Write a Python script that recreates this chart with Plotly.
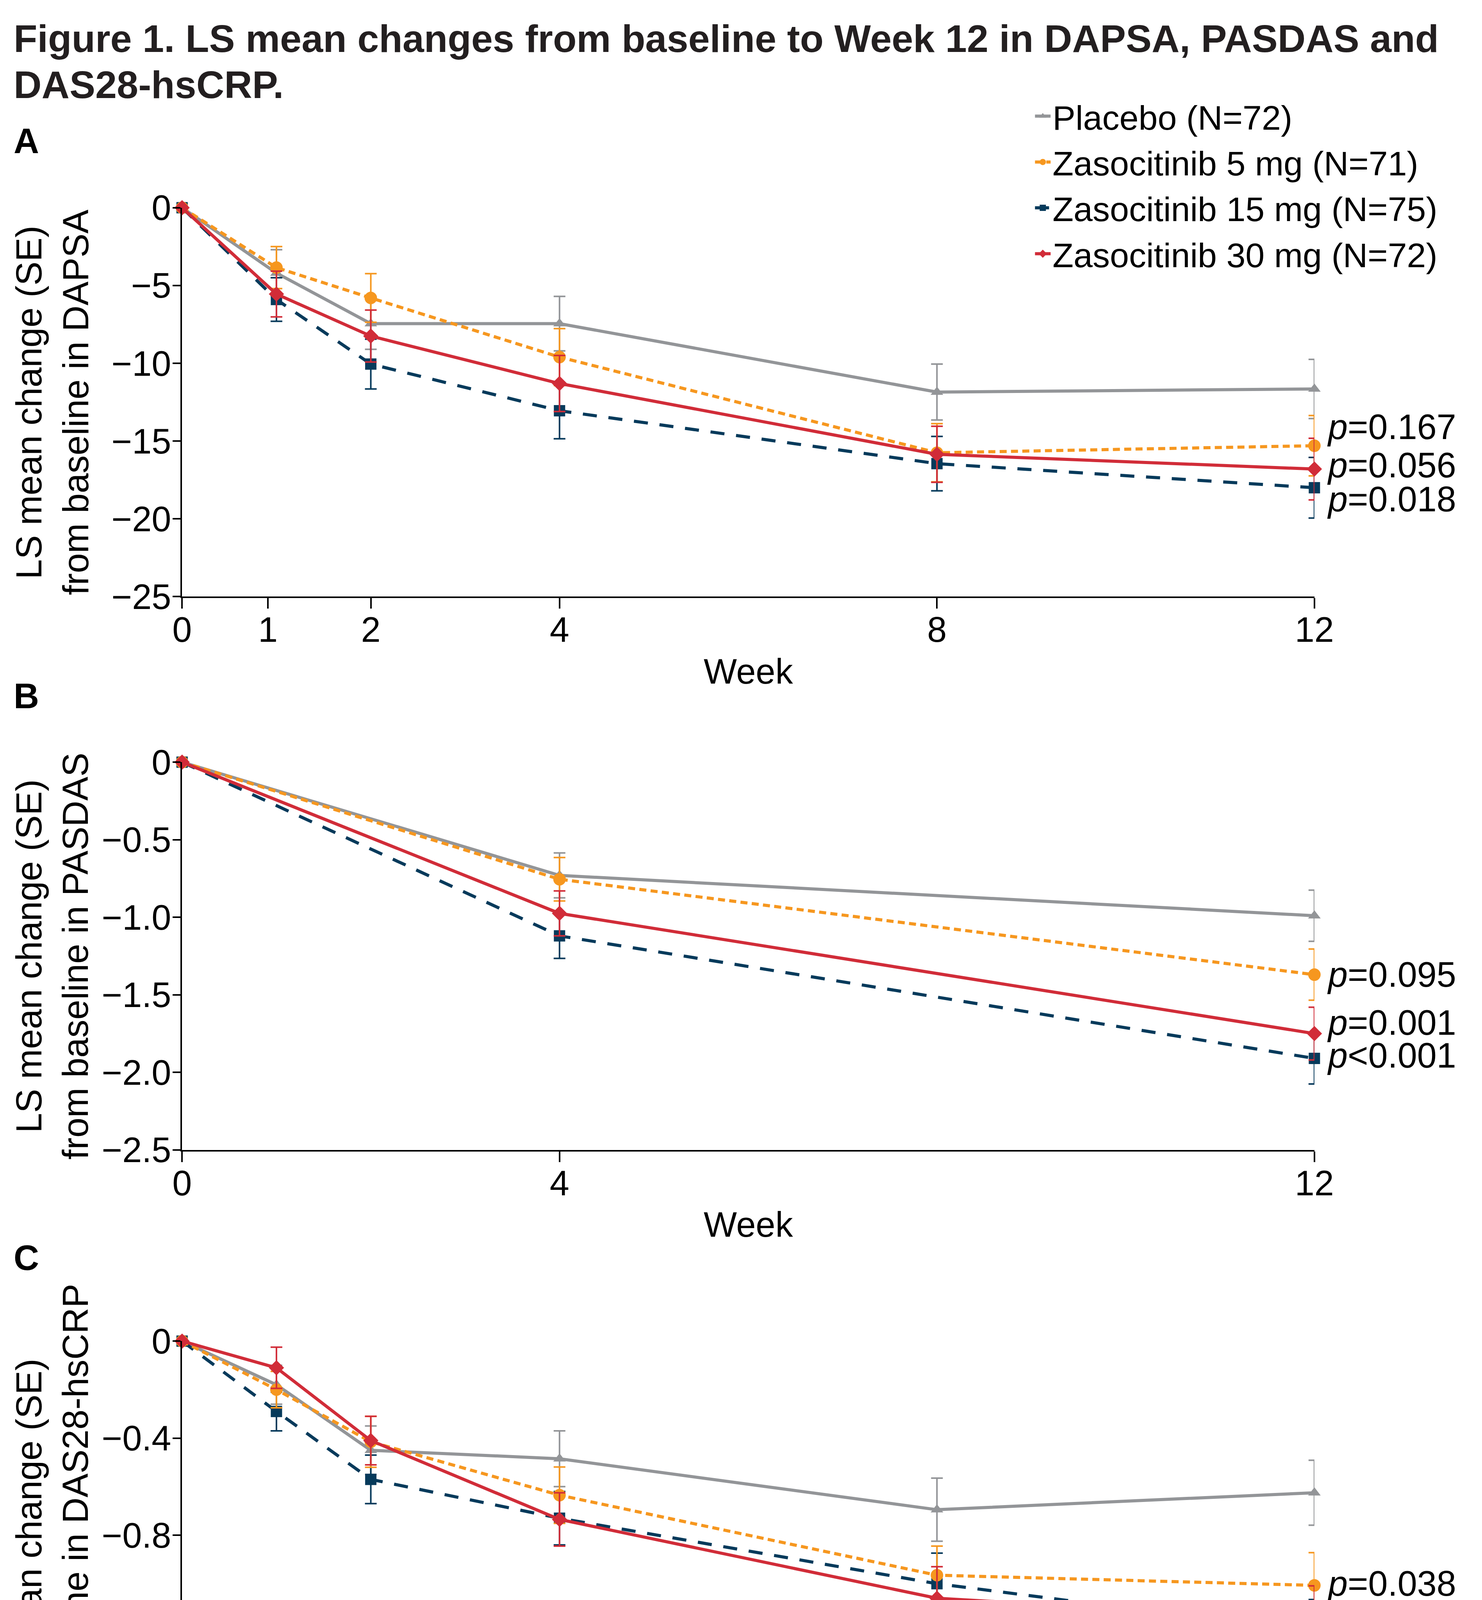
import plotly.graph_objects as go

W, H = 3795, 5285
FONT = "Liberation Sans, Arial, Helvetica, sans-serif"

# ---------------- data ----------------
series_names = ["Placebo (N=72)", "Zasocitinib 5 mg (N=71)",
                "Zasocitinib 15 mg (N=75)", "Zasocitinib 30 mg (N=72)"]
series_colors = ["#939598", "#F6971F", "#063A5B", "#D12C38"]
series_symbols = ["triangle-up", "circle", "square", "diamond"]
series_sizes = [28, 32, 29, 30]
series_dash = ["solid", "18px,11px", "36px,30px", "solid"]
legend_rank = [1, 2, 3, 4]
draw_order = [0, 2, 1, 3]

weeks_A = [0, 1, 2, 4, 8, 12]
weeks_B = [0, 4, 12]
weeks_C = [0, 1, 2, 4, 8, 12]

# Panel A: DAPSA
dapsa_mean = [
    [0, -4.2, -7.45, -7.45, -11.85, -11.65],
    [0, -3.85, -5.8, -9.6, -15.75, -15.3],
    [0, -5.9, -10.05, -13.05, -16.45, -18.0],
    [0, -5.55, -8.25, -11.3, -15.85, -16.8],
]
dapsa_se = [
    [None, 1.5, 1.65, 1.75, 1.8, 1.9],
    [None, 1.35, 1.56, 1.83, 1.87, 1.94],
    [None, 1.4, 1.6, 1.8, 1.75, 1.95],
    [None, 1.47, 1.67, 1.8, 1.8, 1.98],
]
# Panel B: PASDAS
pasdas_mean = [
    [0, -0.73, -0.99],
    [0, -0.755, -1.37],
    [0, -1.12, -1.91],
    [0, -0.975, -1.75],
]
pasdas_se = [
    [None, 0.145, 0.165],
    [None, 0.14, 0.165],
    [None, 0.145, 0.165],
    [None, 0.145, 0.17],
]
# Panel C: DAS28-hsCRP
das28_mean = [
    [0, -0.18, -0.45, -0.485, -0.695, -0.625],
    [0, -0.2, -0.415, -0.635, -0.965, -1.007],
    [0, -0.29, -0.57, -0.73, -1.0, -1.2],
    [0, -0.11, -0.41, -0.735, -1.06, -1.149],
]
das28_se = [
    [None, 0.08, 0.1, 0.115, 0.13, 0.134],
    [None, 0.075, 0.105, 0.116, 0.12, 0.135],
    [None, 0.08, 0.1, 0.11, 0.126, 0.135],
    [None, 0.085, 0.1, 0.11, 0.13, 0.14],
]

# p-value labels at week 12 (text, label y position)
pvals_A = ["<i>p</i>=0.167", "<i>p</i>=0.056", "<i>p</i>=0.018"]
pvals_A_y = [-14.1, -16.55, -18.75]
pvals_B = ["<i>p</i>=0.095", "<i>p</i>=0.001", "<i>p</i>&lt;0.001"]
pvals_B_y = [-1.37, -1.68, -1.89]
pvals_C = ["<i>p</i>=0.038", "<i>p</i>=0.006", "<i>p</i>=0.002"]
pvals_C_y = [-1.0, -1.147, -1.297]

# axis ticks
xt_A = [0, 0.91, 2, 4, 8, 12]
xt_A_text = ["0", "1", "2", "4", "8", "12"]
xt_B = [0, 4, 12]
xt_B_text = ["0", "4", "12"]
yt_A = [0, -5, -10, -15, -20, -25]
yt_A_text = ["0", "\u22125", "\u221210", "\u221215", "\u221220", "\u221225"]
yt_B = [0, -0.5, -1.0, -1.5, -2.0, -2.5]
yt_B_text = ["0", "\u22120.5", "\u22121.0", "\u22121.5", "\u22122.0", "\u22122.5"]
yt_C = [0, -0.4, -0.8, -1.2, -1.6]
yt_C_text = ["0", "\u22120.4", "\u22120.8", "\u22121.2", "\u22121.6"]

ytitle_A = "LS mean change (SE)<br>from baseline in DAPSA"
ytitle_B = "LS mean change (SE)<br>from baseline in PASDAS"
ytitle_C = "LS mean change (SE)<br>from baseline in DAS28-hsCRP"

title_line1 = "<b>Figure 1. LS mean changes from baseline to Week 12 in DAPSA, PASDAS and</b>"
title_line2 = "<b>DAS28-hsCRP.</b>"
footnote_lines = [
    "LS mean and nominal <i>p</i> values were obtained from a mixed model for repeated measures. The model included",
    "treatment group, visit, treatment-by-visit interaction, previous treatment with biologics or nontraditional",
    "disease-modifying anti-rheumatic drugs, and region as fixed effects, and baseline score as a covariate.",
    "DAPSA, Disease Activity Index for Psoriatic Arthritis; DAS28, Disease Activity Score 28; hsCRP, high-sensitivity",
    "C-reactive protein; LS, least-squares; PASDAS, Psoriatic Arthritis Disease Activity Score; SE, standard error.",
]

# ---------------- layout geometry (pixels) ----------------
def py(p):
    return 1 - p / H

x_dom = [442 / W, 3400 / W]
panels = [
    dict(top=483, bottom=1498, label="A", label_base=347),
    dict(top=1930, bottom=2942, label="B", label_base=1796),
    dict(top=3441, bottom=4454, label="C", label_base=3262),
]
footnote_tops = [4775, 4866, 4956, 5046, 5136]

fig = go.Figure()

panel_data = [
    (weeks_A, dapsa_mean, dapsa_se, "x", "y"),
    (weeks_B, pasdas_mean, pasdas_se, "x2", "y2"),
    (weeks_C, das28_mean, das28_se, "x3", "y3"),
]

for pi, (wk, means, ses, xa, ya) in enumerate(panel_data):
    for i in draw_order:
        fig.add_trace(go.Scatter(
            x=wk, y=means[i], xaxis=xa, yaxis=ya,
            mode="lines+markers",
            name=series_names[i],
            legendrank=legend_rank[i],
            showlegend=(pi == 0),
            cliponaxis=False,
            line=dict(color=series_colors[i], width=8, dash=series_dash[i]),
            marker=dict(symbol=series_symbols[i], size=series_sizes[i],
                        color=series_colors[i], line=dict(width=0)),
            error_y=dict(type="data", array=ses[i], visible=True,
                         color=series_colors[i], thickness=4, width=15),
        ))

axis_common = dict(showline=True, linecolor="black", linewidth=4,
                   showgrid=False, zeroline=False, ticks="outside",
                   tickcolor="black", tickwidth=4,
                   tickfont=dict(family=FONT, size=90, color="black"))

xt = [(xt_A, xt_A_text), (xt_B, xt_B_text), (xt_A, xt_A_text)]
yt = [(yt_A, yt_A_text, [-25, 0]), (yt_B, yt_B_text, [-2.5, 0]), (yt_C, yt_C_text, [-1.6, 0])]

layout_axes = {}
for k, p in enumerate(panels):
    sfx = "" if k == 0 else str(k + 1)
    layout_axes["xaxis" + sfx] = dict(axis_common, domain=x_dom, range=[0, 12],
                                      tickvals=xt[k][0], ticktext=xt[k][1],
                                      ticklen=27, ticklabelstandoff=-23, anchor="y" + sfx)
    layout_axes["yaxis" + sfx] = dict(axis_common, domain=[py(p["bottom"]), py(p["top"])],
                                      range=yt[k][2], tickvals=yt[k][0], ticktext=yt[k][1],
                                      ticklen=20, ticklabelstandoff=-14, anchor="x" + sfx)

annotations = []
annotations.append(dict(text=title_line1, x=0, y=1, xref="paper", yref="paper",
                        xanchor="left", yanchor="top", showarrow=False, align="left",
                        yshift=17,
                        font=dict(family=FONT, size=99, color="#231F20")))
annotations.append(dict(text=title_line2, x=0, y=py(103), xref="paper", yref="paper",
                        xanchor="left", yanchor="top", showarrow=False, align="left",
                        font=dict(family=FONT, size=99, color="#231F20")))
ytitles = [ytitle_A, ytitle_B, ytitle_C]
pv_sets = [(pvals_A, pvals_A_y), (pvals_B, pvals_B_y), (pvals_C, pvals_C_y)]
for k, p in enumerate(panels):
    sfx = "" if k == 0 else str(k + 1)
    annotations.append(dict(text="<b>%s</b>" % p["label"], x=0, y=py(p["label_base"] - 91),
                            xref="paper", yref="paper", xanchor="left", yanchor="top",
                            showarrow=False, font=dict(family=FONT, size=90, color="black")))
    annotations.append(dict(text=ytitles[k], x=103 / W, y=py((p["top"] + p["bottom"]) / 2),
                            xref="paper", yref="paper", xanchor="center", yanchor="middle",
                            textangle=-90, showarrow=False, align="center",
                            font=dict(family=FONT, size=92, color="black")))
    annotations.append(dict(text="Week", x=(x_dom[0] + x_dom[1]) / 2, y=py(p["bottom"] + 142),
                            xref="paper", yref="paper", xanchor="center", yanchor="top",
                            showarrow=False, font=dict(family=FONT, size=90, color="black")))
    for txt, yv in zip(*pv_sets[k]):
        annotations.append(dict(text=txt, x=12, y=yv, xref="x" + sfx, yref="y" + sfx,
                                xanchor="left", yanchor="middle", xshift=30,
                                showarrow=False, font=dict(family=FONT, size=90, color="black")))
for line, top in zip(footnote_lines, footnote_tops):
    annotations.append(dict(text=line, x=0, y=py(top), xref="paper", yref="paper",
                            xanchor="left", yanchor="top", showarrow=False, align="left",
                            xshift=2,
                            font=dict(family=FONT, size=75, color="#231F20")))

fig.update_layout(
    width=W, height=H,
    margin=dict(l=0, r=0, t=0, b=0),
    paper_bgcolor="white", plot_bgcolor="white",
    font=dict(family=FONT, color="black"),
    showlegend=True,
    legend=dict(x=2665 / W, y=py(179), xanchor="left", yanchor="top",
                font=dict(family=FONT, size=88, color="black"),
                bgcolor="rgba(0,0,0,0)", itemwidth=40,
                traceorder="normal"),
    annotations=annotations,
    **layout_axes,
)

fig.write_html("out.html")
